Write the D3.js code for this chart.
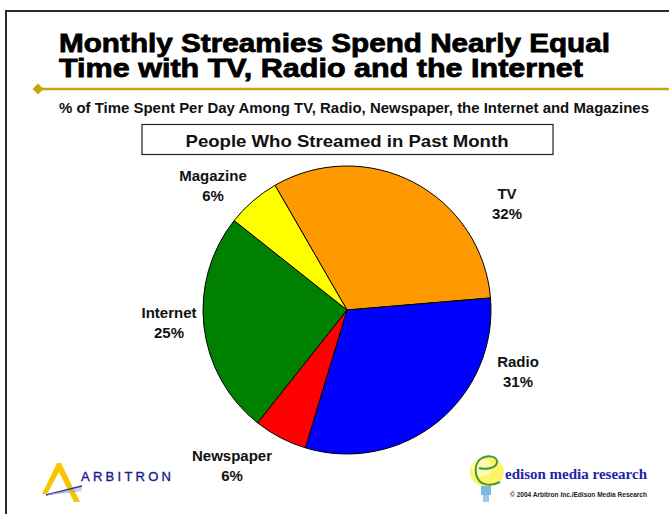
<!DOCTYPE html>
<html>
<head>
<meta charset="utf-8">
<script src="https://cdn.jsdelivr.net/npm/d3@7"></script>
<style>
  html, body { margin: 0; padding: 0; background: #fff; }
  svg { display: block; }
</style>
</head>
<body>
<svg id="chart" width="669" height="514"></svg>
<script>
// Share of daily media time, people who streamed in the past month
const categories = ["TV", "Radio", "Newspaper", "Internet", "Magazine"];
const shares = [32, 31, 6, 25, 6];
const sliceColors = ["#FF9900", "#0000FF", "#FF0000", "#008000", "#FFFF00"];

const titleLines = [
  "Monthly Streamies Spend Nearly Equal",
  "Time with TV, Radio and the Internet"
];
const subtitle = "% of Time Spent Per Day Among TV, Radio, Newspaper, the Internet and Magazines";
const boxTitle = "People Who Streamed in Past Month";

// Label anchors relative to the pie centre (layout only)
const labelOffsets = {
  TV: [160, -108],
  Radio: [171, 60],
  Newspaper: [-115, 154],
  Internet: [-178, 11],
  Magazine: [-134, -126]
};

const svg = d3.select("#chart");
const font = "'Liberation Sans', Arial, Helvetica, sans-serif";

// Slide frame (cropped at right and bottom)
svg.append("rect")
  .attr("x", 6).attr("y", 11)
  .attr("width", 700).attr("height", 560)
  .attr("fill", "#fff")
  .attr("stroke", "#2a2a2a").attr("stroke-width", 2);

// Title: one text block, two lines
const title = svg.append("text")
  .attr("font-family", font)
  .attr("font-weight", "bold")
  .attr("font-size", 26)
  .attr("fill", "#000")
  .attr("stroke", "#000").attr("stroke-width", 0.8);
titleLines.forEach((t, i) => {
  title.append("tspan")
    .attr("x", 59).attr("y", 52 + i * 24.5)
    .attr("textLength", i === 0 ? 551 : 524)
    .attr("lengthAdjust", "spacingAndGlyphs")
    .text(t);
});

// Gold rule with diamond bullet
svg.append("line")
  .attr("x1", 38).attr("x2", 669)
  .attr("y1", 89).attr("y2", 89)
  .attr("stroke", "#C6A50C").attr("stroke-width", 2.5);
svg.append("path")
  .attr("d", "M38,83.5 L43.5,89 L38,94.5 L32.5,89 Z")
  .attr("fill", "#C6A50C");

// Subtitle
svg.append("text")
  .attr("x", 59).attr("y", 113)
  .attr("font-family", font)
  .attr("font-weight", "bold")
  .attr("font-size", 13.8)
  .attr("fill", "#111")
  .attr("textLength", 590)
  .attr("lengthAdjust", "spacingAndGlyphs")
  .text(subtitle);

// Boxed chart heading
svg.append("rect")
  .attr("x", 142).attr("y", 124.5)
  .attr("width", 411).attr("height", 30)
  .attr("fill", "#fff")
  .attr("stroke", "#222").attr("stroke-width", 1.2);
svg.append("text")
  .attr("x", 347).attr("y", 147)
  .attr("text-anchor", "middle")
  .attr("font-family", font)
  .attr("font-weight", "bold")
  .attr("font-size", 16.5)
  .attr("fill", "#111")
  .attr("textLength", 323)
  .attr("lengthAdjust", "spacingAndGlyphs")
  .text(boxTitle);

// Pie
const cx = 347, cy = 310, radius = 144;
const color = d3.scaleOrdinal().domain(categories).range(sliceColors);
const data = categories.map((c, i) => ({ name: c, value: shares[i] }));
const pie = d3.pie()
  .value(d => d.value)
  .sort(null)
  .startAngle(-Math.PI / 6)
  .endAngle(2 * Math.PI - Math.PI / 6);
const arc = d3.arc().innerRadius(0).outerRadius(radius);

const pieG = svg.append("g").attr("transform", `translate(${cx},${cy})`);
pieG.selectAll("path")
  .data(pie(data))
  .join("path")
  .attr("d", arc)
  .attr("fill", d => color(d.data.name))
  .attr("stroke", "#000")
  .attr("stroke-width", 1)
  .attr("stroke-linejoin", "round");

// Slice labels
const labels = pieG.selectAll("text.slice-label")
  .data(pie(data))
  .join("text")
  .attr("class", "slice-label")
  .attr("text-anchor", "middle")
  .attr("font-family", font)
  .attr("font-weight", "bold")
  .attr("font-size", 15)
  .attr("fill", "#111")
  .attr("transform", d => `translate(${labelOffsets[d.data.name][0]},${labelOffsets[d.data.name][1]})`);
labels.append("tspan").attr("x", 0).attr("y", -3).text(d => d.data.name);
labels.append("tspan").attr("x", 0).attr("y", 16.5).text(d => d.data.value + "%");

// Arbitron logo
const arb = svg.append("g");
arb.append("path")
  .attr("d", "M57,463 L61,463 L80,502 L74,502 L59,472 L47,494 L42,494 Z")
  .attr("fill", "#F7C600");
[0, 1, 2, 3, 4].forEach(k => {
  arb.append("line")
    .attr("x1", 46 + k * 2).attr("y1", 495 - k * 0.3)
    .attr("x2", 82).attr("y2", 486 + k * 1.2)
    .attr("stroke", k === 0 ? "#2b2b9a" : "#9a9ad0")
    .attr("stroke-width", k === 0 ? 1.6 : 0.7)
    .attr("opacity", k === 0 ? 1 : 0.7);
});
arb.append("text")
  .attr("x", 81).attr("y", 481)
  .attr("font-family", font)
  .attr("font-size", 13)
  .attr("fill", "#1A1A88")
  .attr("stroke", "#1A1A88").attr("stroke-width", 0.35)
  .attr("textLength", 90)
  .attr("lengthAdjust", "spacing")
  .text("ARBITRON");

// Edison Media Research logo
const ed = svg.append("g");
ed.append("ellipse")
  .attr("cx", 487).attr("cy", 472).attr("rx", 17).attr("ry", 15)
  .attr("fill", "#FFF36A");
ed.append("ellipse")
  .attr("cx", 482).attr("cy", 468).attr("rx", 10).attr("ry", 9)
  .attr("fill", "#FFFBB0");
ed.append("path")
  .attr("d", "M479,468 C486,470 497,468 497,462 C497,456 488,455 482,458 C475,462 474,472 478,479 C482,486 492,486 500,482")
  .attr("fill", "none")
  .attr("stroke", "#3C9A3C").attr("stroke-width", 2);
ed.append("rect")
  .attr("x", 481).attr("y", 486).attr("width", 10).attr("height", 9)
  .attr("fill", "#7DB8E0");
ed.append("rect")
  .attr("x", 483).attr("y", 495).attr("width", 6).attr("height", 7)
  .attr("fill", "#9CCBEA");
ed.append("text")
  .attr("x", 505).attr("y", 479)
  .attr("font-family", "'Liberation Serif', 'Times New Roman', serif")
  .attr("font-weight", "bold")
  .attr("font-size", 15)
  .attr("fill", "#2323A8")
  .attr("textLength", 142)
  .attr("lengthAdjust", "spacingAndGlyphs")
  .text("edison media research");
ed.append("text")
  .attr("x", 510).attr("y", 497)
  .attr("font-family", font)
  .attr("font-weight", "bold")
  .attr("font-size", 7.3)
  .attr("fill", "#222")
  .attr("textLength", 137)
  .attr("lengthAdjust", "spacingAndGlyphs")
  .text("© 2004 Arbitron Inc./Edison Media Research");
</script>
</body>
</html>
